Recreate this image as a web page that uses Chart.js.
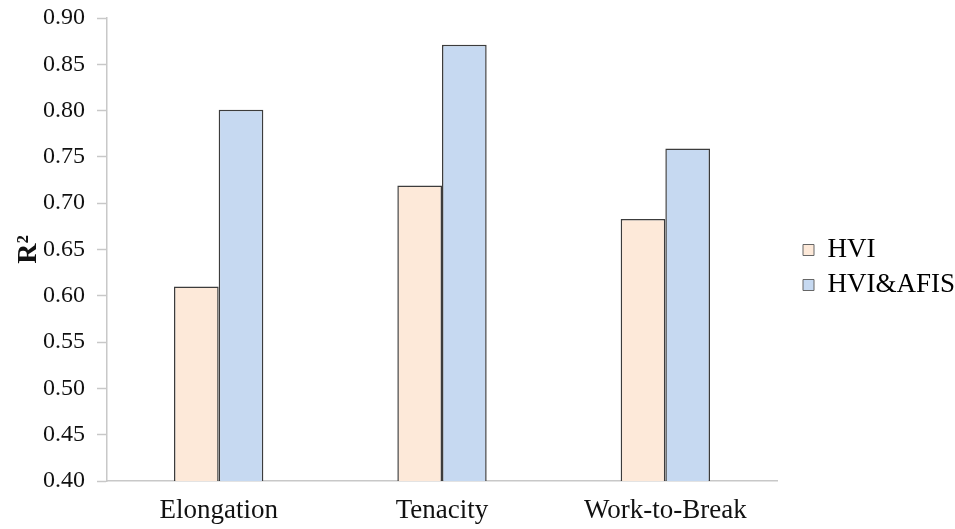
<!DOCTYPE html>
<html>
<head>
<meta charset="utf-8">
<script src="https://cdn.jsdelivr.net/npm/chart.js@4/dist/chart.umd.min.js"></script>
<style>
html,body{margin:0;padding:0;background:#fff;}
#wrap{width:955px;height:529px;position:relative;}
</style>
</head>
<body>
<div id="wrap"><canvas id="c" width="955" height="529"></canvas></div>
<script>
const categories = ['Elongation', 'Tenacity', 'Work-to-Break'];
const hviValues = [0.610, 0.719, 0.683];
const hviAfisValues = [0.801, 0.871, 0.759];
const seriesNames = ['HVI', 'HVI&AFIS'];
const yMin = 0.40, yMax = 0.90, yStep = 0.05;

const FONT = '"Liberation Serif", "Times New Roman", serif';

const legendPlace = {
  id: 'legendPlace',
  beforeLayout(chart) {
    const l = chart.legend;
    if (l && !l._patched) {
      const f = l.fit.bind(l);
      l.fit = function () { f(); this.width = 178; };
      l._patched = true;
    }
  },
  afterLayout(chart) {
    const l = chart.legend;
    if (l) { l.left += 18; l.top -= 6; l.bottom -= 6; }
  }
};

new Chart(document.getElementById('c'), {
  type: 'bar',
  data: {
    labels: categories,
    datasets: [
      { label: seriesNames[0], data: hviValues, backgroundColor: '#FDE9D9', borderColor: '#3c3c3c', borderWidth: 1.5 },
      { label: seriesNames[1], data: hviAfisValues, backgroundColor: '#C6D9F1', borderColor: '#3c3c3c', borderWidth: 1.5 }
    ]
  },
  plugins: [legendPlace],
  options: {
    responsive: false,
    animation: false,
    layout: { padding: { top: 18, right: 0, left: 0, bottom: 0 } },
    datasets: { bar: { categoryPercentage: 0.40, barPercentage: 1.0 } },
    plugins: {
      tooltip: { enabled: false },
      legend: {
        position: 'right',
        align: 'center',
        labels: {
          font: { family: FONT, size: 27 },
          color: '#111',
          boxWidth: 11, boxHeight: 11,
          padding: 8,
          generateLabels: (chart) => chart.data.datasets.map((ds, i) => ({
            text: ds.label, fillStyle: ds.backgroundColor, strokeStyle: '#666', lineWidth: 1, datasetIndex: i, hidden: false
          }))
        }
      }
    },
    scales: {
      x: {
        afterFit: (s) => { s.height = 48; },
        grid: { display: false, drawTicks: false },
        border: { color: '#c8c8c8', width: 1.5 },
        ticks: { font: { family: FONT, size: 27 }, color: '#111', padding: 14 }
      },
      y: {
        min: yMin, max: yMax,
        afterFit: (s) => { s.width = 107; s.paddingTop = 0; },
        grid: { display: true, drawOnChartArea: false, drawTicks: true, tickLength: 10, tickColor: '#c8c8c8', tickWidth: 1.5 },
        border: { color: '#c8c8c8', width: 1.5 },
        ticks: { stepSize: yStep, font: { family: FONT, size: 24 }, color: '#111', padding: 12,
          callback: (v) => v.toFixed(2) },
        title: { display: true, text: 'R²', font: { family: FONT, size: 28, weight: 'bold' }, color: '#111', padding: { top: 12, bottom: 0 } }
      }
    }
  }
});
</script>
</body>
</html>
